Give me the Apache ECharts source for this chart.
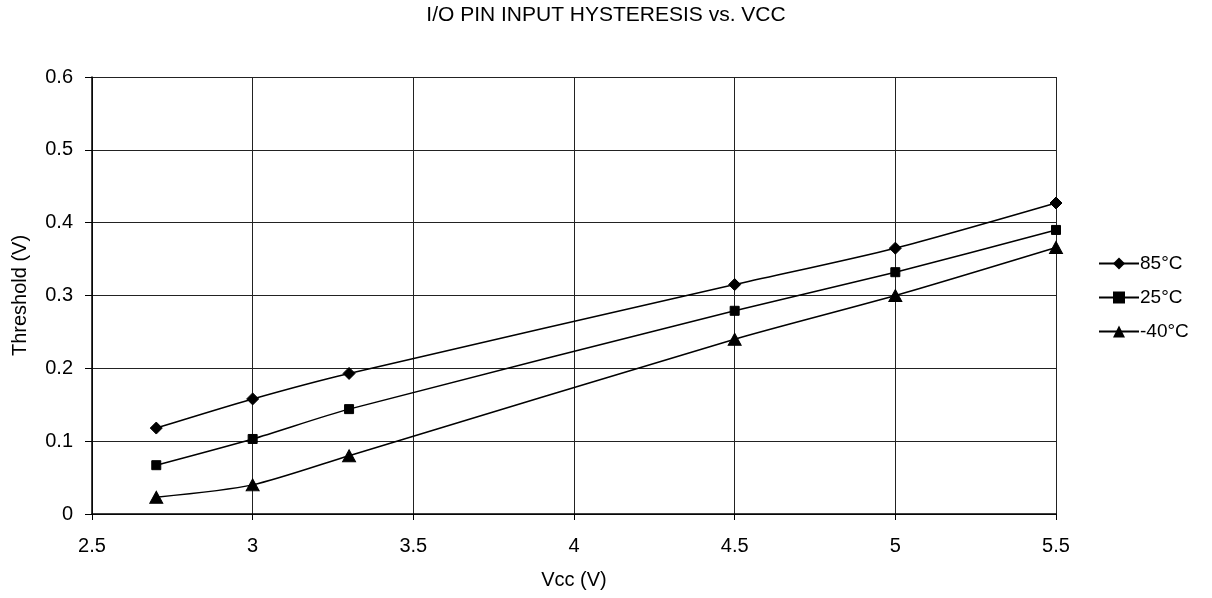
<!DOCTYPE html>
<html>
<head>
<meta charset="utf-8">
<script src="https://cdn.jsdelivr.net/npm/echarts@6/dist/echarts.min.js"></script>
<style>
  html, body { margin: 0; padding: 0; background: #fff; }
  #chart { width: 1212px; height: 598px; }
</style>
</head>
<body>
<div id="chart"></div>
<script>
const vcc = [2.7, 3.0, 3.3, 4.5, 5.0, 5.5];
const t85 = [0.118, 0.158, 0.193, 0.315, 0.365, 0.427];
const t25 = [0.067, 0.103, 0.144, 0.279, 0.332, 0.390];
const tm40 = [0.023, 0.040, 0.080, 0.240, 0.300, 0.366];
const seriesNames = ['85°C', '25°C', '-40°C'];
const seriesSymbols = ['diamond', 'rect', 'triangle'];

const FONT = '"Liberation Sans", Arial, sans-serif';
const pairs = (ys) => vcc.map((x, i) => [x, ys[i]]);

const chart = echarts.init(document.getElementById('chart'), null, { renderer: 'canvas' });
const symbolSizes = [[12, 12], 9, [13, 12]];
const allData = [t85, t25, tm40];

chart.setOption({
  animation: false,
  backgroundColor: '#fff',
  title: {
    text: 'I/O PIN INPUT HYSTERESIS vs. VCC',
    left: 'center',
    top: 0,
    textStyle: { fontFamily: FONT, fontSize: 21, fontWeight: 'normal', color: '#000' }
  },
  legend: {
    orient: 'vertical',
    left: 1093,
    top: 249,
    itemWidth: 40,
    itemHeight: 15,
    itemGap: 15,
    textStyle: { fontFamily: FONT, fontSize: 19, color: '#000', padding: [0, 0, 0, -4] },
    data: seriesNames
  },
  grid: { left: 92, right: 156, top: 77, bottom: 84, containLabel: false },
  xAxis: {
    type: 'value',
    min: 2.5, max: 5.5, interval: 0.5,
    name: 'Vcc (V)',
    nameLocation: 'middle',
    nameGap: 56,
    nameTextStyle: { fontFamily: FONT, fontSize: 20, color: '#000' },
    axisLine: { lineStyle: { color: '#000', width: 1.5 } },
    axisTick: { show: true, length: 6, lineStyle: { color: '#000' } },
    axisLabel: { fontFamily: FONT, fontSize: 20, color: '#000', margin: 22 },
    splitLine: { show: true, lineStyle: { color: '#222', width: 1 } }
  },
  yAxis: {
    type: 'value',
    min: 0, max: 0.6, interval: 0.1,
    name: 'Threshold (V)',
    nameLocation: 'middle',
    nameGap: 62,
    nameTextStyle: { fontFamily: FONT, fontSize: 20, color: '#000' },
    axisLine: { show: true, lineStyle: { color: '#000', width: 1.5 } },
    axisTick: { show: true, length: 7, lineStyle: { color: '#000' } },
    axisLabel: { fontFamily: FONT, fontSize: 20, color: '#000', margin: 19 },
    splitLine: { show: true, lineStyle: { color: '#222', width: 1 } }
  },
  series: seriesNames.map((name, i) => ({
    name,
    type: 'line',
    data: pairs(allData[i]),
    smooth: 0.25,
    symbol: seriesSymbols[i],
    symbolSize: symbolSizes[i],
    showAllSymbol: true,
    lineStyle: { color: '#000', width: 1.5 },
    itemStyle: { color: '#000', borderColor: '#000' },
    z: 3
  }))
});
</script>
</body>
</html>
